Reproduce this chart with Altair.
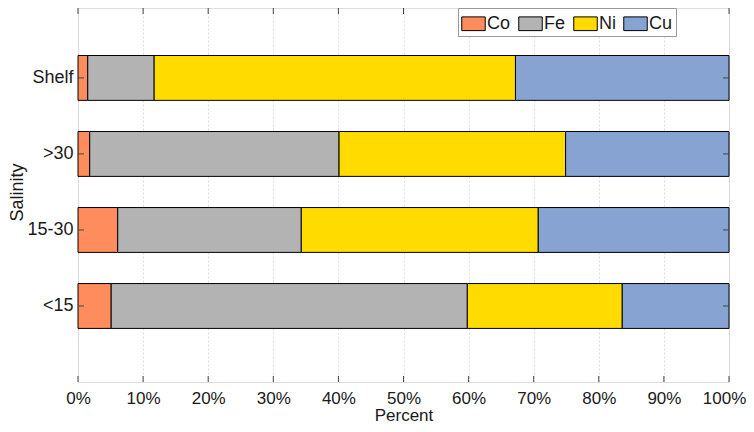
import altair as alt
import pandas as pd

# ---- data ----
categories = ["Shelf", ">30", "15-30", "<15"]
positions = [4, 3, 2, 1]
metals = ["Co", "Fe", "Ni", "Cu"]
co = [1.5, 1.8, 6.1, 5.1]
fe = [10.2, 38.3, 28.2, 54.7]
ni = [55.5, 34.8, 36.4, 23.8]
cu = [32.8, 25.1, 29.3, 16.4]
x_ticks = [0, 10, 20, 30, 40, 50, 60, 70, 80, 90, 100]
colors = ["#FF8C5C", "#B3B3B3", "#FFDB00", "#87A3D1"]

series = {"Co": co, "Fe": fe, "Ni": ni, "Cu": cu}
rows = []
for mi, m in enumerate(metals):
    for ci, c in enumerate(categories):
        rows.append({"salinity": c, "pos": positions[ci], "metal": m,
                     "order": mi, "value": series[m][ci]})
df = pd.DataFrame(rows)

W, H = 651, 374
FONT = "Liberation Sans"
FRAME = "#444444"

label_expr = "".join(
    f"datum.value=={p}?'{c}':" for p, c in zip(positions, categories)
) + "''"

xscale = alt.Scale(domain=[0, 100], nice=False, zero=False)
yscale = alt.Scale(domain=[0, 4.92], nice=False, zero=False)

x_axis = alt.Axis(
    values=x_ticks, labelExpr="datum.value + '%'", grid=True,
    gridDash=[2, 2], gridColor="#d4d4d4", gridWidth=0.8,
    ticks=False, tickSize=0, domain=False, labelPadding=8,
    labelFlush=False, labelOverlap=False, labelBound=False,
    labelOffset={"condition": {"test": "datum.value == 100", "value": -5},
                 "value": 0},
    labelFontSize=17, labelFont=FONT, labelColor="#1a1a1a",
    title="Percent", titleFontSize=17, titleFont=FONT,
    titleFontWeight="normal", titleColor="#1a1a1a",
    titleBaseline="alphabetic", titleY=38.5, titleX=W / 2)
y_axis = alt.Axis(
    values=positions, labelExpr=label_expr, grid=False,
    ticks=False, tickSize=0, domain=False, labelPadding=5,
    labelFlush=False, labelOverlap=False,
    labelFontSize=18, labelFont=FONT, labelColor="#1a1a1a",
    title="Salinity", titleFontSize=18, titleFont=FONT,
    titleFontWeight="normal", titleColor="#1a1a1a",
    titleBaseline="alphabetic", titleX=-55.5, titleY=184, titleAngle=270)

bars = alt.Chart(df).transform_stack(
    stack="value", groupby=["salinity"], as_=["x0", "x1"],
    sort=[alt.SortField("order", order="ascending")]
).transform_calculate(
    ylo="datum.pos - 0.295", yhi="datum.pos + 0.295"
).mark_bar(stroke="black", strokeWidth=1, opacity=1).encode(
    x=alt.X("x0:Q", scale=xscale, axis=x_axis),
    x2="x1:Q",
    y=alt.Y("ylo:Q", scale=yscale, axis=y_axis),
    y2="yhi:Q",
    color=alt.Color("metal:N", scale=alt.Scale(domain=metals, range=colors),
                    sort=metals,
                    legend=alt.Legend(
                        orient="none", legendX=380, legendY=0,
                        direction="horizontal", title=None,
                        symbolType="M-1,-0.583L1,-0.583L1,0.583L-1,0.583Z",
                        symbolSize=552, symbolStrokeColor="black",
                        symbolStrokeWidth=1, symbolOpacity=1,
                        labelFontSize=18, labelFont=FONT, labelColor="#1a1a1a",
                        labelOffset=1, columnPadding=5,
                        strokeColor="#999999", fillColor="white", padding=3)),
)

tick_df = pd.DataFrame({"t": x_ticks})
pos_df = pd.DataFrame({"p": positions})

xt_bottom = alt.Chart(tick_df).mark_rule(color=FRAME, strokeWidth=1).encode(
    x=alt.X("t:Q", scale=xscale, axis=x_axis),
    y=alt.value(H), y2=alt.value(H - 6))
xt_top = alt.Chart(tick_df).mark_rule(color=FRAME, strokeWidth=1).encode(
    x=alt.X("t:Q", scale=xscale, axis=x_axis),
    y=alt.value(0), y2=alt.value(6))
yt_left = alt.Chart(pos_df).mark_rule(color=FRAME, strokeWidth=1).encode(
    y=alt.Y("p:Q", scale=yscale, axis=y_axis),
    x=alt.value(0), x2=alt.value(6))
yt_right = alt.Chart(pos_df).mark_rule(color=FRAME, strokeWidth=1).encode(
    y=alt.Y("p:Q", scale=yscale, axis=y_axis),
    x=alt.value(W), x2=alt.value(W - 6))

chart = alt.layer(bars, xt_bottom, xt_top, yt_left, yt_right).properties(
    width=W, height=H,
    autosize=alt.AutoSizeParams(type="none"),
    padding={"left": 70, "top": 0, "right": 17, "bottom": 42},
).configure_view(stroke=FRAME, strokeWidth=1).configure(background="white")

chart.save("out.html", embed_options={"renderer": "svg", "actions": False})
